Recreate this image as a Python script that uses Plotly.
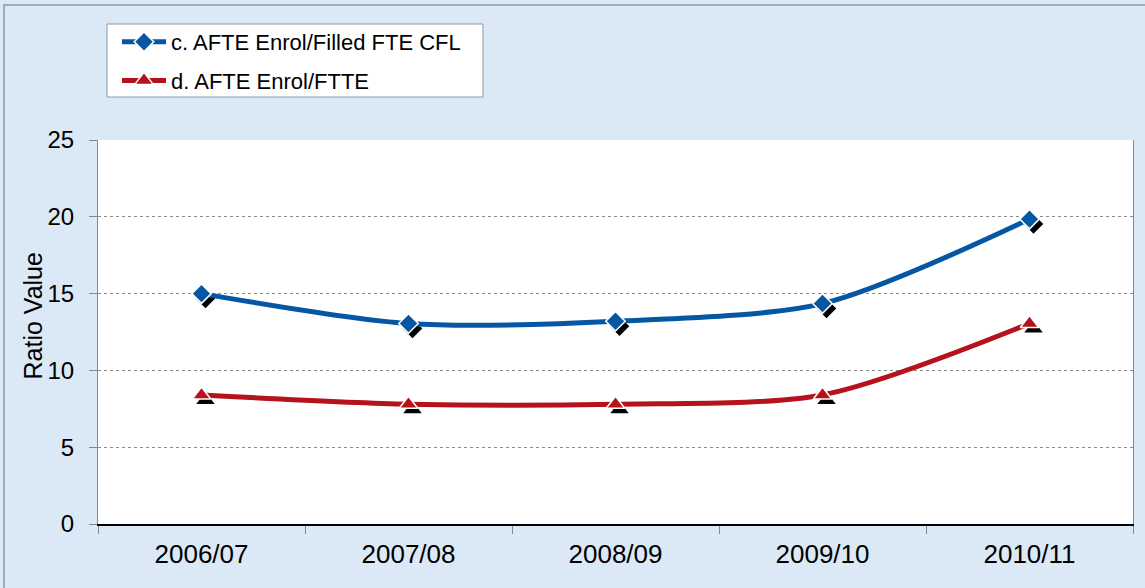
import plotly.graph_objects as go

categories = ["2006/07", "2007/08", "2008/09", "2009/10", "2010/11"]
series_c = [15.0, 13.05, 13.2, 14.35, 19.85]
series_d = [8.4, 7.8, 7.8, 8.4, 13.05]
name_c = "c. AFTE Enrol/Filled FTE CFL"
name_d = "d. AFTE Enrol/FTTE"
y_ticks = [0, 5, 10, 15, 20, 25]
y_title = "Ratio Value"

W, H = 1145, 588
L, R, T, B = 98, 12, 140, 64
pw, ph = W - L - R, H - T - B
ymax = 25
ncat = len(categories)
# shadow offset in pixels, converted through axis scale
sx, sy = 4, 5
dx = sx / (pw / ncat)
dy = sy / (ph / ymax)

BLUE = "#0657a3"
RED = "#b5121b"
FONT = "Liberation Sans, Arial, sans-serif"


def px_x(p):
    return (p - L) / pw


def px_y(p):
    return (H - B - p) / ph


fig = go.Figure()

# main axes: one empty trace so the base subplot is drawn
fig.add_trace(go.Scatter(x=categories, y=[None] * ncat, mode="lines",
                         showlegend=False, hoverinfo="skip"))
# shadows (on shifted overlay axes x2/y2)
fig.add_trace(go.Scatter(x=categories, y=series_c, mode="markers", xaxis="x2", yaxis="y2",
                         marker=dict(symbol="diamond", size=15, color="black"),
                         showlegend=False, hoverinfo="skip"))
fig.add_trace(go.Scatter(x=categories, y=series_d, mode="markers", xaxis="x2", yaxis="y2",
                         marker=dict(symbol="triangle-up", size=16, color="black"),
                         showlegend=False, hoverinfo="skip"))
# main series (on x3/y3, same range as visible axes)
fig.add_trace(go.Scatter(x=categories, y=series_c, name=name_c, mode="lines+markers",
                         xaxis="x3", yaxis="y3", legendgroup="c",
                         line=dict(color=BLUE, width=5, shape="spline", smoothing=0.8),
                         marker=dict(symbol="diamond", size=15, color=BLUE,
                                     line=dict(color="white", width=1.5))))
fig.add_trace(go.Scatter(x=categories, y=series_d, name=name_d, mode="lines+markers",
                         xaxis="x3", yaxis="y3", legendgroup="d",
                         line=dict(color=RED, width=5, shape="spline", smoothing=0.8),
                         marker=dict(symbol="triangle-up", size=16, color=RED,
                                     line=dict(color="white", width=1.5))))

hidden = dict(showgrid=False, zeroline=False, showline=False, ticks="",
              showticklabels=False, fixedrange=True)

fig.update_layout(
    width=W, height=H,
    margin=dict(l=L, r=R, t=T, b=B, autoexpand=False),
    paper_bgcolor="#dbe8f5",
    plot_bgcolor="white",
    font=dict(family=FONT, color="black"),
    hovermode=False,
    xaxis=dict(type="category", categoryorder="array", categoryarray=categories,
               range=[-0.5, ncat - 0.5], tickson="boundaries",
               ticks="outside", ticklen=8, tickcolor="#888888",
               showline=True, linecolor="black", linewidth=1.5,
               showgrid=False, zeroline=False, ticklabelstandoff=6,
               tickfont=dict(size=26, family=FONT)),
    yaxis=dict(range=[0, ymax], tickvals=y_ticks,
               ticks="outside", ticklen=8, tickcolor="#888888",
               showline=True, linecolor="#888888", linewidth=1, mirror=True,
               showgrid=True, gridcolor="#8a8a8a", gridwidth=1, griddash="dot",
               zeroline=False, ticklabelstandoff=10,
               tickfont=dict(size=24, family=FONT)),
    xaxis2=dict(type="category", categoryorder="array", categoryarray=categories,
                range=[-0.5 - dx, ncat - 0.5 - dx], overlaying="x", anchor="y2", **hidden),
    yaxis2=dict(range=[dy, ymax + dy], overlaying="y", anchor="x2", **hidden),
    xaxis3=dict(type="category", categoryorder="array", categoryarray=categories,
                range=[-0.5, ncat - 0.5], overlaying="x", anchor="y3", **hidden),
    yaxis3=dict(range=[0, ymax], overlaying="y", anchor="x3", **hidden),
    legend=dict(x=px_x(117), y=px_y(21),
                xanchor="left", yanchor="top",
                bgcolor="rgba(0,0,0,0)", borderwidth=0,
                font=dict(size=22, family=FONT), traceorder="grouped",
                tracegroupgap=7, itemwidth=44),
    annotations=[dict(text=y_title, textangle=-90, xref="paper", yref="paper",
                      x=px_x(32.5), y=px_y(316), xanchor="center", yanchor="middle",
                      showarrow=False, font=dict(size=25, family=FONT))],
    shapes=[
        dict(type="rect", xref="paper", yref="paper",
             x0=px_x(4), x1=px_x(W + 10), y0=px_y(H + 10), y1=px_y(5),
             line=dict(color="#8c98a6", width=1.5), fillcolor="rgba(0,0,0,0)",
             layer="below"),
        dict(type="rect", xref="paper", yref="paper",
             x0=px_x(107), x1=px_x(483), y0=px_y(97), y1=px_y(24),
             line=dict(color="#8c98a6", width=1), fillcolor="white",
             layer="above"),
    ],
)

fig.write_html("out.html", config={"displayModeBar": False, "staticPlot": True},
               post_script="document.body.style.margin='0px';")
